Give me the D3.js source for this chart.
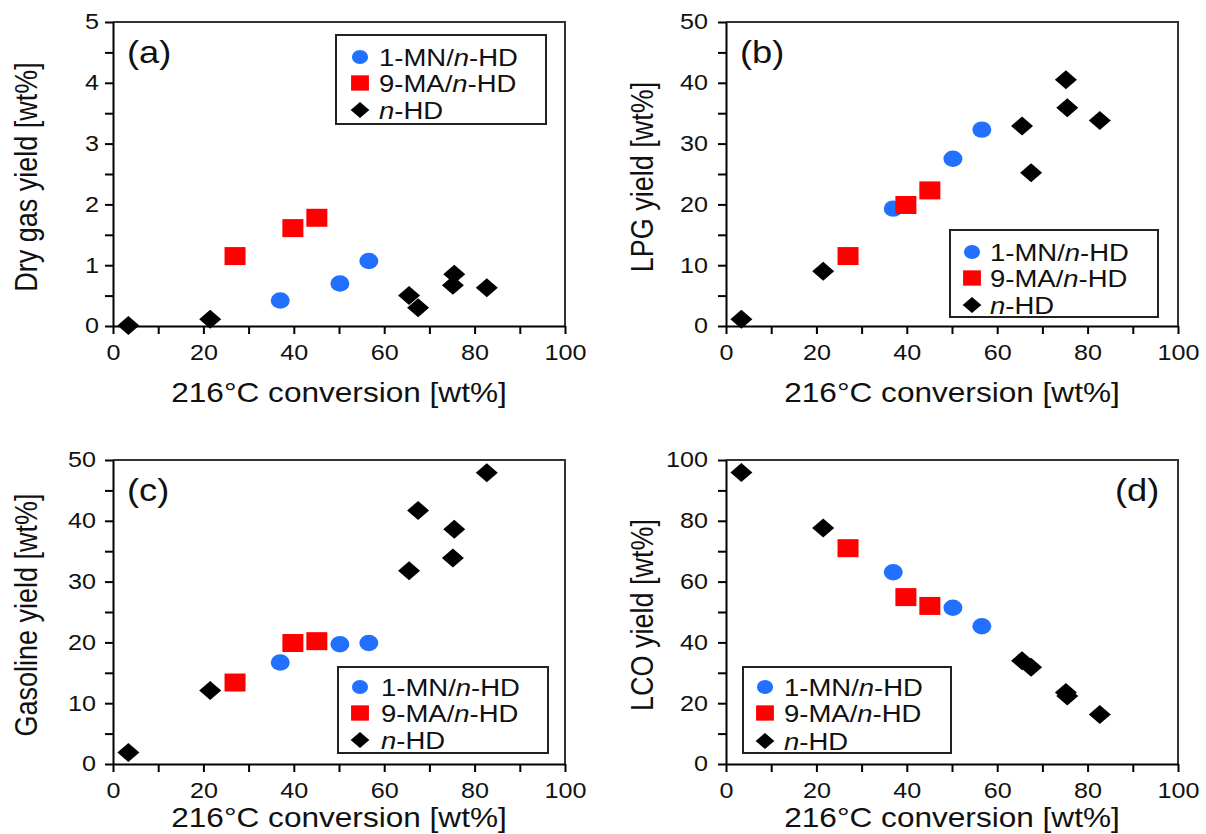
<!DOCTYPE html>
<html>
<head>
<meta charset="utf-8">
<script src="https://cdn.jsdelivr.net/npm/d3@7"></script>
<style>
  html, body { margin: 0; padding: 0; background: #fff; }
  svg { display: block; }
  text { font-family: Arial, "Liberation Sans", Helvetica, sans-serif; fill: #111; }
</style>
</head>
<body>
<svg id="chart" width="1206" height="834"></svg>
<script>
// ---------------- DATA ----------------
const seriesNames = ["1-MN/n-HD", "9-MA/n-HD", "n-HD"];

// 216°C conversion [wt%] (x) for each feed
const convMN = [37.0, 50.2, 56.6];
const convMA = [27.0, 39.8, 45.1];
const convHD = [3.4, 21.5, 65.5, 67.5, 75.2, 75.5, 82.7];

// (a) Dry gas yield [wt%]
const dryGasMN = [0.42, 0.70, 1.07];
const dryGasMA = [1.15, 1.61, 1.78];
const dryGasHD = [0.01, 0.11, 0.50, 0.30, 0.67, 0.85, 0.63];

// (b) LPG yield [wt%]
const lpgMN = [19.3, 27.5, 32.3];
const lpgMA = [11.5, 19.9, 22.3];
const lpgHD = [1.1, 9.0, 32.9, 25.2, 40.5, 35.9, 33.8];

// (c) Gasoline yield [wt%]
const gasolineMN = [16.7, 19.7, 19.9];
const gasolineMA = [13.4, 19.9, 20.2];
const gasolineHD = [1.9, 12.1, 31.8, 41.7, 33.9, 38.6, 47.9];

// (d) LCO yield [wt%]
const lcoMN = [63.1, 51.4, 45.3];
const lcoMA = [71.0, 54.9, 52.0];
const lcoHD = [95.9, 77.6, 34.0, 31.8, 23.5, 22.4, 16.3];

const xTickValues = [0, 20, 40, 60, 80, 100];
const xTitle = "216°C conversion [wt%]";

// ---------------- LAYOUT ----------------
const SX = 1.17; // horizontal stretch of the original figure's text
const BLUE = "#2270ff", RED = "#ff0000", BLACK = "#000";

const panels = [
  { tag: "(a)", ytitle: "Dry gas yield [wt%]", ymax: 5, ystep: 1,
    mn: dryGasMN, ma: dryGasMA, hd: dryGasHD,
    l: 113, r: 565, t: 22, b: 326, yGap: 14,
    tagX: 127, tagY: 63, xTitleY: 402, yTitleX: 37,
    leg: { x: 336, y: 35, w: 210, h: 89, mx: 360, tx: 379, rows: [57, 83, 110] } },
  { tag: "(b)", ytitle: "LPG yield [wt%]", ymax: 50, ystep: 10,
    mn: lpgMN, ma: lpgMA, hd: lpgHD,
    l: 726, r: 1178, t: 22, b: 326, yGap: 18,
    tagX: 740, tagY: 63, xTitleY: 402, yTitleX: 653,
    leg: { x: 950, y: 230, w: 208, h: 87, mx: 972, tx: 990, rows: [252, 278, 305] } },
  { tag: "(c)", ytitle: "Gasoline yield [wt%]", ymax: 50, ystep: 10,
    mn: gasolineMN, ma: gasolineMA, hd: gasolineHD,
    l: 113, r: 565, t: 460, b: 764, yGap: 17,
    tagX: 127, tagY: 501, xTitleY: 827, yTitleX: 37,
    leg: { x: 338, y: 667, w: 210, h: 86, mx: 360, tx: 381, rows: [687, 713, 740] } },
  { tag: "(d)", ytitle: "LCO yield [wt%]", ymax: 100, ystep: 20,
    mn: lcoMN, ma: lcoMA, hd: lcoHD,
    l: 726, r: 1178, t: 460, b: 764, yGap: 18,
    tagX: 1115, tagY: 501, xTitleY: 827, yTitleX: 653,
    leg: { x: 743, y: 667, w: 208, h: 86, mx: 765, tx: 784, rows: [687, 713, 741] } }
];

const svg = d3.select("#chart");

function drawMarker(g, type, cx, cy, s) {
  if (type === "circle") {
    g.append("ellipse").attr("cx", cx).attr("cy", cy)
      .attr("rx", 9.5 * s).attr("ry", 8.2 * s).attr("fill", BLUE);
  } else if (type === "square") {
    g.append("rect").attr("x", cx - 10.5 * s).attr("y", cy - 9 * s)
      .attr("width", 21 * s).attr("height", 18 * s).attr("fill", RED);
  } else {
    const hw = 11 * s, hh = 9.5 * s;
    g.append("path")
      .attr("d", `M${cx - hw},${cy}L${cx},${cy - hh}L${cx + hw},${cy}L${cx},${cy + hh}Z`)
      .attr("fill", BLACK);
  }
}

panels.forEach(p => {
  const g = svg.append("g");
  const x = d3.scaleLinear().domain([0, 100]).range([p.l, p.r]);
  const y = d3.scaleLinear().domain([0, p.ymax]).range([p.b, p.t]);

  // frame (top & right)
  g.append("path")
    .attr("d", `M${p.l},${p.t}H${p.r}V${p.b}`)
    .attr("fill", "none").attr("stroke", "#333").attr("stroke-width", 2);

  // x axis
  const xAxis = d3.axisBottom(x)
    .tickValues(d3.range(0, 101, 10))
    .tickFormat(d => xTickValues.includes(d) ? d : "")
    .tickSize(8).tickSizeOuter(0).tickPadding(11);
  const gx = g.append("g").attr("transform", `translate(0,${p.b})`).call(xAxis);
  gx.select(".domain").attr("stroke", "#000").attr("stroke-width", 2);
  gx.selectAll(".tick line").attr("stroke", "#000").attr("stroke-width", 2);
  gx.selectAll(".tick text")
    .attr("font-size", 21.5).attr("fill", "#111")
    .attr("transform", `scale(${SX},1)`);

  // y axis
  const yVals = d3.range(0, p.ymax + 1e-9, p.ystep / 2);
  const yAxis = d3.axisLeft(y)
    .tickValues(yVals)
    .tickFormat(d => (Math.abs(d / p.ystep - Math.round(d / p.ystep)) < 1e-6) ? d : "")
    .tickSize(8).tickSizeOuter(0);
  const gy = g.append("g").attr("transform", `translate(${p.l},0)`).call(yAxis);
  gy.select(".domain").attr("stroke", "#000").attr("stroke-width", 2);
  gy.selectAll(".tick line").attr("stroke", "#000").attr("stroke-width", 2);
  gy.selectAll(".tick text")
    .attr("font-size", 21.5).attr("fill", "#111")
    .attr("x", -p.yGap / SX)
    .attr("transform", `scale(${SX},1)`);

  // axis titles
  g.append("text")
    .attr("transform", `translate(${(p.l + p.r) / 2},${p.xTitleY}) scale(${SX},1)`)
    .attr("text-anchor", "middle").attr("font-size", 27)
    .text(xTitle);
  g.append("text")
    .attr("transform", `translate(${p.yTitleX},${(p.t + p.b) / 2 + 3}) scale(${SX},1) rotate(-90)`)
    .attr("text-anchor", "middle").attr("font-size", 27)
    .text(p.ytitle);

  // panel tag
  g.append("text")
    .attr("transform", `translate(${p.tagX},${p.tagY}) scale(${SX},1)`)
    .attr("font-size", 31)
    .text(p.tag);

  // data marks
  const marks = g.append("g");
  convMN.forEach((cv, i) => drawMarker(marks, "circle", x(cv), y(p.mn[i]), 1));
  convMA.forEach((cv, i) => drawMarker(marks, "square", x(cv), y(p.ma[i]), 1));
  convHD.forEach((cv, i) => drawMarker(marks, "diamond", x(cv), y(p.hd[i]), 1));

  // legend
  const L = p.leg;
  const lg = g.append("g");
  lg.append("rect").attr("x", L.x).attr("y", L.y).attr("width", L.w).attr("height", L.h)
    .attr("fill", "#fff").attr("stroke", "#222").attr("stroke-width", 2);
  const types = ["circle", "square", "diamond"];
  types.forEach((t, i) => {
    drawMarker(lg, t, L.mx, L.rows[i], 0.85);
    const tx = lg.append("text")
      .attr("transform", `translate(${L.tx},${L.rows[i] + 8.5}) scale(${SX},1)`)
      .attr("font-size", 23.5);
    const name = seriesNames[i];
    // italic "n"
    const parts = name.split("n-");
    tx.append("tspan").text(parts[0]);
    tx.append("tspan").attr("font-style", "italic").text("n");
    tx.append("tspan").text("-" + parts[1]);
  });
});
</script>
</body>
</html>
